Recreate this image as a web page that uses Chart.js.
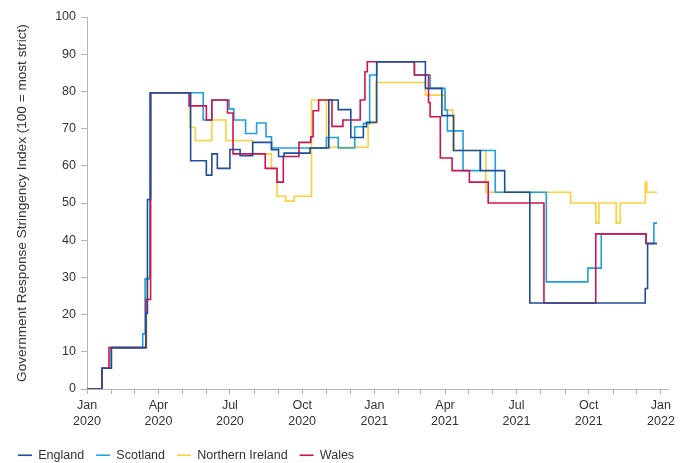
<!DOCTYPE html>
<html>
<head>
<meta charset="utf-8">
<script src="https://cdn.jsdelivr.net/npm/chart.js@4.4.1/dist/chart.umd.min.js"></script>
<style>
  html, body { margin: 0; padding: 0; background: #fff; }
</style>
</head>
<body>
<canvas id="stringency-chart" width="686" height="463"></canvas>
<script>
'use strict'

// dates where the index changes, and the value it changes to
const englandDates = ['2020-01-01', '2020-01-20', '2020-02-01', '2020-03-16', '2020-03-18', '2020-03-22',
    '2020-05-12', '2020-06-01', '2020-06-08', '2020-06-15', '2020-07-01', '2020-07-14', '2020-07-30',
    '2020-08-23', '2020-09-01', '2020-09-08', '2020-10-11', '2020-11-04', '2020-11-16', '2020-12-02',
    '2020-12-18', '2020-12-22', '2021-01-04', '2021-03-07', '2021-03-28', '2021-04-12', '2021-05-16',
    '2021-06-16', '2021-07-18', '2021-12-12', '2021-12-15'];
const englandValues = [0, 5.56, 11.11, 20.37, 50.93, 79.63,
    61.34, 57.5, 63.2, 59.3, 64.4, 62.7, 66.3,
    64.3, 62.5, 63.4, 64.8, 77.7, 75.1, 67.6,
    70.5, 71.7, 87.96, 80.8, 73.5, 64.1, 58.7,
    52.9, 23.1, 27, 39.1];

const scotlandDates = ['2020-01-01', '2020-01-20', '2020-02-01', '2020-03-12', '2020-03-15', '2020-03-21',
    '2020-05-28', '2020-06-08', '2020-06-30', '2020-07-06', '2020-07-21', '2020-08-04', '2020-08-16',
    '2020-08-23', '2020-11-01', '2020-11-16', '2020-12-07', '2020-12-18', '2020-12-26', '2021-01-04',
    '2021-02-21', '2021-03-13', '2021-04-01', '2021-04-04', '2021-04-24', '2021-05-16', '2021-06-04',
    '2021-08-08', '2021-09-30', '2021-10-17', '2021-12-13', '2021-12-23'];
const scotlandValues = [0, 5.56, 11.11, 14.81, 29.6, 79.63,
    72.3, 77.7, 75.3, 72.3, 68.7, 71.5, 67.8,
    64.8, 67.6, 64.8, 70.5, 71.4, 84.4, 87.96,
    84.4, 80.8, 75.0, 69.4, 58.7, 64.1, 52.9,
    28.8, 32.5, 41.7, 39.1, 44.6];

const niDates = ['2020-01-01', '2020-01-20', '2020-02-01', '2020-03-17', '2020-03-22',
    '2020-05-11', '2020-05-18', '2020-06-08', '2020-06-26', '2020-07-30', '2020-08-23', '2020-08-30',
    '2020-09-10', '2020-09-21', '2020-10-13', '2020-11-01', '2020-12-24', '2021-01-03', '2021-03-07',
    '2021-04-01', '2021-04-11', '2021-05-23', '2021-09-08', '2021-10-10', '2021-10-14', '2021-11-05',
    '2021-11-10', '2021-12-12', '2021-12-14'];
const niValues = [0, 5.56, 11.11, 30, 79.63,
    70.3, 66.8, 72.3, 66.8, 63.2, 59.2, 51.8,
    50.5, 51.8, 77.7, 65.0, 71.4, 82.4, 79.0,
    75.0, 64.1, 52.9, 50.0, 44.6, 50.0, 44.6,
    50.0, 55.6, 52.9];

const walesDates = ['2020-01-01', '2020-01-20', '2020-01-29', '2020-03-16', '2020-03-22',
    '2020-05-10', '2020-06-01', '2020-06-08', '2020-06-28', '2020-07-05', '2020-08-15', '2020-08-30',
    '2020-09-07', '2020-09-27', '2020-10-12', '2020-10-15', '2020-10-22', '2020-11-08', '2020-11-22',
    '2020-12-14', '2020-12-20', '2020-12-23', '2021-02-21', '2021-03-11', '2021-03-13', '2021-03-26',
    '2021-04-10', '2021-05-02', '2021-05-26', '2021-08-05', '2021-10-10', '2021-12-13'];
const walesValues = [0, 5.56, 11.11, 24.07, 79.63,
    76.1, 72.3, 77.7, 74.2, 63.2, 59.3, 55.6,
    62.5, 66.3, 67.8, 74.8, 77.7, 70.6, 72.3,
    77.7, 85.3, 87.96, 84.4, 77.0, 73.2, 62.1,
    58.7, 55.6, 50.0, 23.1, 41.7, 39.1];

const lastDate = '2021-12-27';

const quarterDates = ['2020-01-01', '2020-04-01', '2020-07-01', '2020-10-01', '2021-01-01',
    '2021-04-01', '2021-07-01', '2021-10-01', '2022-01-01'];
const quarterLabels = [['Jan', '2020'], ['Apr', '2020'], ['Jul', '2020'], ['Oct', '2020'], ['Jan', '2021'],
    ['Apr', '2021'], ['Jul', '2021'], ['Oct', '2021'], ['Jan', '2022']];

const t0 = Date.UTC(2020, 0, 1);
function dayOf(s) {
    const [y, m, d] = s.split('-').map(Number);
    return Math.round((Date.UTC(y, m - 1, d) - t0) / 864e5);
}
function toPoints(dates, values) {
    const pts = dates.map((d, i) => ({ x: dayOf(d), y: values[i] }));
    pts.push({ x: dayOf(lastDate), y: values[values.length - 1] });
    return pts;
}

// a tick at every month start, labels only on quarters
const monthTicks = [];
for (let i = 0; i <= 24; i++) {
    monthTicks.push(Math.round((Date.UTC(2020, i, 1) - t0) / 864e5));
}
const labelByDay = {};
quarterDates.forEach((d, i) => { labelByDay[dayOf(d)] = quarterLabels[i]; });

const textColor = '#333';
const axisColor = '#b5b5b5';
const font = { family: "'Liberation Sans', Arial, sans-serif", size: 12.5 };

function line(label, dates, values, color, order) {
    return {
        label: label,
        data: toPoints(dates, values),
        borderColor: color,
        backgroundColor: color,
        borderWidth: 1.6,
        pointRadius: 0,
        stepped: 'before',
        order: order
    };
}

const ctx = document.getElementById('stringency-chart').getContext('2d');
const chart = new Chart(ctx, {
    type: 'line',
    data: {
        datasets: [
            line('England', englandDates, englandValues, '#1f4e9a', 0),
            line('Scotland', scotlandDates, scotlandValues, '#1fa0dc', 2),
            line('Northern Ireland', niDates, niValues, '#fdd03b', 3),
            line('Wales', walesDates, walesValues, '#d3124f', 1)
        ]
    },
    options: {
        responsive: false,
        animation: false,
        layout: { padding: { left: 6, right: 18, top: 17, bottom: 0 } },
        plugins: {
            tooltip: { enabled: false },
            legend: {
                position: 'bottom',
                align: 'start',
                maxHeight: 26,
                labels: {
                    usePointStyle: true,
                    pointStyle: 'line',
                    pointStyleWidth: 14,
                    boxHeight: 12,
                    padding: 12,
                    color: textColor,
                    font: font,
                    sort: (a, b) => a.datasetIndex - b.datasetIndex
                }
            }
        },
        scales: {
            x: {
                type: 'linear',
                min: 0,
                max: 740,
                afterBuildTicks: (axis) => { axis.ticks = monthTicks.map(v => ({ value: v })); },
                afterFit: (scale) => { scale.height = 48; },
                ticks: {
                    autoSkip: false,
                    maxRotation: 0,
                    color: textColor,
                    font: Object.assign({ lineHeight: 1.3 }, font),
                    padding: 3,
                    callback: (value) => labelByDay[value] || ''
                },
                grid: { drawOnChartArea: false, drawTicks: true, tickLength: 5, color: axisColor },
                border: { color: axisColor }
            },
            y: {
                min: 0,
                max: 100,
                afterFit: (scale) => { scale.width = 81; },
                ticks: { stepSize: 10, color: textColor, font: font, padding: 5 },
                grid: { drawOnChartArea: false, drawTicks: true, tickLength: 6, color: axisColor },
                border: { color: axisColor },
                title: {
                    display: true,
                    text: 'Government Response Stringency Index (100 = most strict)',
                    color: textColor,
                    font: { family: font.family, size: 13.6 },
                    padding: { top: 8, bottom: 0 }
                }
            }
        }
    }
});
</script>
</body>
</html>
